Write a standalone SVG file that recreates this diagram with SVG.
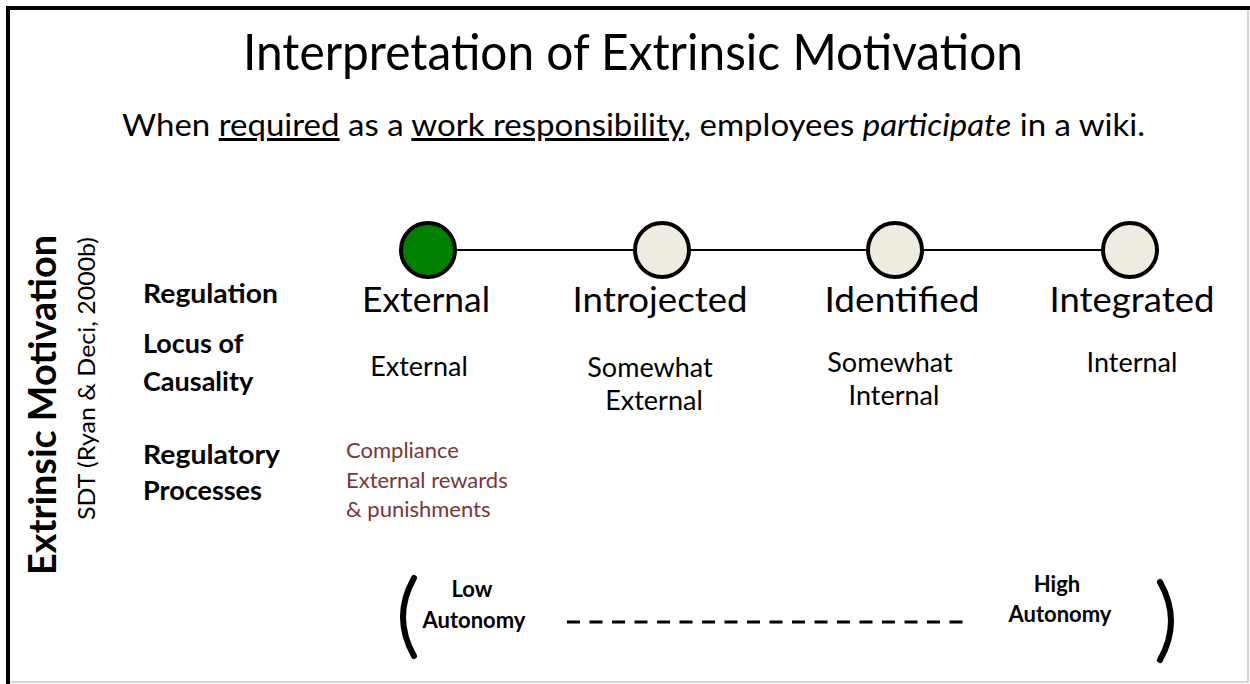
<svg xmlns="http://www.w3.org/2000/svg" width="1250" height="684" viewBox="0 0 1250 684">
<style>
text{font-family:Lato,"Liberation Sans",sans-serif;fill:#000}
.title{font-size:50px}
.sub{font-size:30px}
.reg{font-size:35px;text-anchor:middle}
.loc{font-size:27px;text-anchor:middle}
.hdr{font-size:27px;font-weight:bold}
.proc{font-size:22px;fill:#7a3535}
.aut{font-size:22px;font-weight:bold;text-anchor:middle}
.node{stroke:#000;stroke-width:4}
</style>
<rect x="0" y="0" width="1250" height="684" fill="#fff"/>
<rect x="8" y="8" width="1240" height="674" fill="none" stroke="#c8c8c8" stroke-width="1.5"/>
<path d="M8 684 V8 H1250" fill="none" stroke="#000" stroke-width="4"/>

<g id="title">
<text class="title" x="633" y="70" text-anchor="middle" textLength="780" lengthAdjust="spacingAndGlyphs">Interpretation of Extrinsic Motivation</text>
<text class="sub" x="122" y="136" textLength="1023" lengthAdjust="spacingAndGlyphs">When <tspan text-decoration="underline">required</tspan> as a <tspan text-decoration="underline">work responsibility</tspan>, employees <tspan font-style="italic">participate</tspan> in a wiki.</text>
</g>

<g id="side-labels">
<text transform="translate(56,575) rotate(-90)" textLength="340" lengthAdjust="spacingAndGlyphs" style="font-size:38px;font-weight:bold">Extrinsic Motivation</text>
<text transform="translate(95,520) rotate(-90)" textLength="283" lengthAdjust="spacingAndGlyphs" style="font-size:24px">SDT (Ryan &amp; Deci, 2000b)</text>
<text class="hdr" x="143" y="303" textLength="135" lengthAdjust="spacingAndGlyphs">Regulation</text>
<text class="hdr" x="143" y="353">Locus of</text>
<text class="hdr" x="143" y="391">Causality</text>
<text class="hdr" x="143" y="464" textLength="137" lengthAdjust="spacingAndGlyphs">Regulatory</text>
<text class="hdr" x="143" y="500">Processes</text>
</g>

<g id="connectors">
<line x1="428" y1="250" x2="1130" y2="250" stroke="#000" stroke-width="2"/>
</g>

<g id="node-external">
<circle class="node" cx="428" cy="250" r="27" fill="#008000"/>
<text class="reg" x="426" y="312" textLength="128" lengthAdjust="spacingAndGlyphs">External</text>
<text class="loc" x="419" y="376">External</text>
<text class="proc" x="346" y="458">Compliance</text>
<text class="proc" x="346" y="488">External rewards</text>
<text class="proc" x="346" y="517">&amp; punishments</text>
</g>

<g id="node-introjected">
<circle class="node" cx="662" cy="250" r="27" fill="#eeece1"/>
<text class="reg" x="660" y="312" textLength="175" lengthAdjust="spacingAndGlyphs">Introjected</text>
<text class="loc" x="650" y="377">Somewhat</text>
<text class="loc" x="654" y="410">External</text>
</g>

<g id="node-identified">
<circle class="node" cx="895" cy="250" r="27" fill="#eeece1"/>
<text class="reg" x="902" y="312" textLength="155" lengthAdjust="spacingAndGlyphs">Identified</text>
<text class="loc" x="890" y="372">Somewhat</text>
<text class="loc" x="894" y="405">Internal</text>
</g>

<g id="node-integrated">
<circle class="node" cx="1130" cy="250" r="27" fill="#eeece1"/>
<text class="reg" x="1132" y="312" textLength="165" lengthAdjust="spacingAndGlyphs">Integrated</text>
<text class="loc" x="1132" y="372">Internal</text>
</g>

<g id="autonomy-scale">
<path d="M414 578 Q392 617 414 656" fill="none" stroke="#000" stroke-width="6" stroke-linecap="round"/>
<path d="M1160 582 Q1182 621 1160 660" fill="none" stroke="#000" stroke-width="6" stroke-linecap="round"/>
<text class="aut" x="472" y="597">Low</text>
<text class="aut" x="474" y="628">Autonomy</text>
<text class="aut" x="1057" y="592">High</text>
<text class="aut" x="1060" y="622">Autonomy</text>
<line x1="567" y1="622" x2="972" y2="622" stroke="#000" stroke-width="3" stroke-dasharray="13 9.5"/>
</g>
</svg>
